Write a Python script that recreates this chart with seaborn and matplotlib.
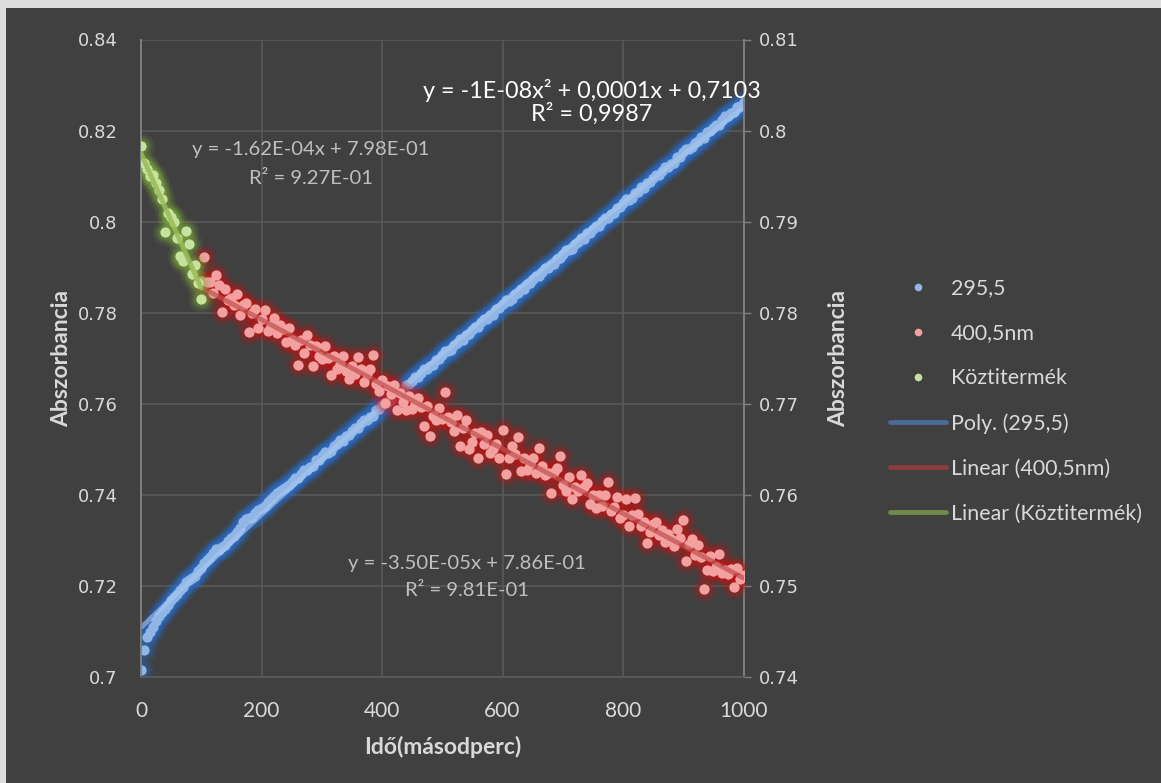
import numpy as np
import pandas as pd
import matplotlib
matplotlib.use("Agg")
import matplotlib.pyplot as plt
from matplotlib.lines import Line2D
from matplotlib.patches import Rectangle
import seaborn as sns

# ---- measured absorbance values -------------------------------------------
time_295 = np.arange(0, 1001, 5)
abs_295 = [
    0.7015, 0.7060, 0.7088, 0.7098, 0.7110, 0.7122, 0.7135, 0.7142, 0.7150, 0.7158,
    0.7168, 0.7176, 0.7182, 0.7190, 0.7198, 0.7208, 0.7213, 0.7218, 0.7222, 0.7232,
    0.7240, 0.7250, 0.7256, 0.7264, 0.7272, 0.7282, 0.7278, 0.7285, 0.7290, 0.7298,
    0.7305, 0.7310, 0.7318, 0.7328, 0.7340, 0.7346, 0.7350, 0.7352, 0.7360, 0.7366,
    0.7372, 0.7376, 0.7384, 0.7390, 0.7398, 0.7403, 0.7408, 0.7412, 0.7418, 0.7422,
    0.7428,
    0.7436, 0.7436, 0.7446, 0.7454, 0.7454, 0.7461, 0.7463, 0.7476, 0.7477, 0.7486,
    0.7494, 0.7493, 0.7497, 0.7507, 0.7511, 0.7520, 0.7518, 0.7530, 0.7532, 0.7540,
    0.7547, 0.7547, 0.7557, 0.7565, 0.7565, 0.7572, 0.7574, 0.7586, 0.7588, 0.7597,
    0.7605, 0.7604, 0.7608, 0.7618, 0.7622, 0.7631, 0.7629, 0.7641, 0.7643, 0.7651,
    0.7658, 0.7658, 0.7668, 0.7676, 0.7676, 0.7683, 0.7685, 0.7697, 0.7699, 0.7708,
    0.7716, 0.7715, 0.7719, 0.7729, 0.7733, 0.7742, 0.7740, 0.7752, 0.7754, 0.7762,
    0.7769, 0.7769, 0.7779, 0.7787, 0.7787, 0.7794, 0.7796, 0.7808, 0.7810, 0.7819,
    0.7827, 0.7826, 0.7830, 0.7840, 0.7844, 0.7853, 0.7851, 0.7863, 0.7865, 0.7873,
    0.7880, 0.7880, 0.7890, 0.7898, 0.7898, 0.7905, 0.7907, 0.7919, 0.7921, 0.7930,
    0.7938, 0.7937, 0.7941, 0.7951, 0.7955, 0.7964, 0.7962, 0.7974, 0.7976, 0.7984,
    0.7991, 0.7991, 0.8001, 0.8009, 0.8009, 0.8016, 0.8018, 0.8030, 0.8032, 0.8041,
    0.8049, 0.8048, 0.8052, 0.8062, 0.8066, 0.8075, 0.8073, 0.8085, 0.8087, 0.8095,
    0.8102, 0.8102, 0.8112, 0.8120, 0.8120, 0.8127, 0.8129, 0.8141, 0.8143, 0.8152,
    0.8160, 0.8159, 0.8163, 0.8173, 0.8177, 0.8186, 0.8184, 0.8196, 0.8198, 0.8206,
    0.8213, 0.8213, 0.8223, 0.8231, 0.8231, 0.8238, 0.8240, 0.8252, 0.8254, 0.8262,
]

time_400 = np.arange(100, 1001, 5)
abs_400 = [
    0.7835, 0.7861, 0.7834, 0.7834, 0.7822, 0.7841, 0.7830, 0.7801, 0.7826, 0.7814,
    0.7816, 0.7808, 0.7821, 0.7798, 0.7808, 0.7811, 0.7779, 0.7800, 0.7804, 0.7783,
    0.7793, 0.7803, 0.7780, 0.7787, 0.7794, 0.7778, 0.7786, 0.7782, 0.7768, 0.7783,
    0.7770, 0.7765, 0.7743, 0.7770, 0.7756, 0.7776, 0.7765, 0.7741, 0.7764, 0.7753,
    0.7749, 0.7763, 0.7750, 0.7732, 0.7753, 0.7738, 0.7744, 0.7752, 0.7736, 0.7727,
    0.7742, 0.7733, 0.7751, 0.7738, 0.7724, 0.7733, 0.7738, 0.7754, 0.7722, 0.7714,
    0.7726, 0.7701, 0.7720, 0.7711, 0.7721, 0.7693, 0.7712, 0.7702, 0.7693, 0.7709,
    0.7694, 0.7701, 0.7706, 0.7697, 0.7676, 0.7698, 0.7665, 0.7687, 0.7682, 0.7695,
    0.7683, 0.7713, 0.7686, 0.7680, 0.7670, 0.7688, 0.7654, 0.7673, 0.7682, 0.7650,
    0.7658, 0.7668, 0.7641, 0.7669, 0.7656, 0.7666, 0.7646, 0.7650, 0.7656, 0.7641,
    0.7671, 0.7623, 0.7640, 0.7654, 0.7645, 0.7664, 0.7626, 0.7641, 0.7627, 0.7634,
    0.7640, 0.7624, 0.7651, 0.7632, 0.7622, 0.7624, 0.7602, 0.7625, 0.7630, 0.7643,
    0.7611, 0.7604, 0.7620, 0.7595, 0.7609, 0.7604, 0.7622, 0.7609, 0.7613, 0.7590,
    0.7600, 0.7586, 0.7600, 0.7588, 0.7600, 0.7614, 0.7582, 0.7587, 0.7598, 0.7575,
    0.7578, 0.7595, 0.7566, 0.7578, 0.7597, 0.7579, 0.7566, 0.7570, 0.7547, 0.7559,
    0.7568, 0.7570, 0.7556, 0.7561, 0.7548, 0.7557, 0.7551, 0.7544, 0.7562, 0.7553,
    0.7572, 0.7527, 0.7546, 0.7552, 0.7534, 0.7545, 0.7532, 0.7497, 0.7518, 0.7533,
    0.7516, 0.7521, 0.7535, 0.7514, 0.7518, 0.7513, 0.7519, 0.7499, 0.7520, 0.7508,
    0.7512,
]

time_kozti = np.arange(0, 101, 5)
abs_kozti = [
    0.7983, 0.7964, 0.7958, 0.7950, 0.7951, 0.7942, 0.7935, 0.7925, 0.7889, 0.7909,
    0.7905, 0.7900, 0.7882, 0.7862, 0.7857, 0.7890, 0.7876, 0.7843, 0.7852, 0.7833,
    0.7815,
]

series_names = ["295,5", "400,5nm", "Köztitermék"]
trend_names = ["Poly. (295,5)", "Linear (400,5nm)", "Linear (Köztitermék)"]
eq_295 = ["y = -1E-08x² + 0,0001x + 0,7103", "R² = 0,9987"]
eq_kozti = ["y = -1.62E-04x + 7.98E-01", "R² = 9.27E-01"]
eq_400 = ["y = -3.50E-05x + 7.86E-01", "R² = 9.81E-01"]

left_ticks = [0.7, 0.72, 0.74, 0.76, 0.78, 0.8, 0.82, 0.84]
right_ticks = [0.74, 0.75, 0.76, 0.77, 0.78, 0.79, 0.8, 0.81]
x_ticks = [0, 200, 400, 600, 800, 1000]

# ---- style -----------------------------------------------------------------
sns.set_theme(style="dark")
BG = "#404040"
GRID = "#595959"
TXT = "#d9d9d9"
plt.rcParams["font.family"] = ["Lato", "DejaVu Sans"]

W, H = 1161, 783
fig = plt.figure(figsize=(W / 100, H / 100), dpi=100)
fig.patch.set_facecolor("#dcdcdc")
fig.add_artist(Rectangle((6 / W, 0), 1, 1 - 8 / H, transform=fig.transFigure,
                         facecolor=BG, edgecolor="none", zorder=0))

def px(x, y):
    return x / W, 1 - y / H

ax = fig.add_axes([141 / W, 1 - 677 / H, (743.5 - 141) / W, (677 - 39.5) / H])
ax2 = ax.twinx()
ax.set_facecolor(BG)
ax2.patch.set_visible(False)

def glow_scatter(axis, x, y, core, glow, zo):
    for s, a in [(360, 0.10), (220, 0.16), (130, 0.25)]:
        sns.scatterplot(x=x, y=y, ax=axis, s=s, color=glow, alpha=a,
                        linewidth=0, legend=False, zorder=zo)
    sns.scatterplot(x=x, y=y, ax=axis, s=55, color=core, linewidth=0,
                    legend=False, zorder=zo + 1)

# 295,5 nm on the primary axis with a second-order trend
glow_scatter(ax, time_295, abs_295, "#91b6e6", "#2a6fd0", 3)
p2 = np.polyfit(time_295, abs_295, 2)
tx = np.linspace(0, 1000, 200)
sns.lineplot(x=tx, y=np.polyval(p2, tx), ax=ax, color="#a8c8f0", lw=3.5,
             alpha=0.6, zorder=5)

# 400,5 nm and the intermediate on the secondary axis with linear trends
glow_scatter(ax2, time_400, abs_400, "#f2a0a0", "#c81414", 3)
p1 = np.polyfit(time_400, abs_400, 1)
tr = np.array([100, 1000])
sns.lineplot(x=tr, y=np.polyval(p1, tr), ax=ax2, color="#c0504d", lw=3.5,
             alpha=0.7, zorder=5)

glow_scatter(ax2, time_kozti, abs_kozti, "#c6e29c", "#82b33c", 6)
pk = np.polyfit(time_kozti, abs_kozti, 1)
tk = np.array([0, 100])
sns.lineplot(x=tk, y=np.polyval(pk, tk), ax=ax2, color="#9bbb59", lw=3.5,
             alpha=0.85, zorder=8)

# ---- axes ------------------------------------------------------------------
ax.set_xlim(0, 1000)
ax.set_ylim(0.7, 0.84)
ax2.set_ylim(0.74, 0.81)
ax.set_xticks(x_ticks)
ax.set_xticklabels([str(v) for v in x_ticks], fontsize=15, color=TXT)
ax.set_yticks(left_ticks)
ax.set_yticklabels([f"{v:g}" for v in left_ticks], fontsize=13, color=TXT,
                   family="DejaVu Sans")
ax2.set_yticks(right_ticks)
ax2.set_yticklabels([f"{v:g}" for v in right_ticks], fontsize=13, color=TXT,
                    family="DejaVu Sans")

ax.grid(True, color=GRID, lw=1.2)
ax.set_axisbelow(True)
ax2.grid(False)
for a in (ax, ax2):
    a.spines["top"].set_visible(False)
    a.spines["left"].set_color("#7f7f7f")
    a.spines["right"].set_color("#7f7f7f")
    a.spines["bottom"].set_color(GRID)
    a.spines["bottom"].set_linewidth(1.2)
ax.tick_params(axis="y", length=0, pad=17)
ax.tick_params(axis="x", length=0, pad=17)
ax2.tick_params(axis="y", length=5, width=1, color="#7f7f7f", pad=6, direction="out")

ax.set_xlabel("Idő(másodperc)", fontsize=16.5, fontweight="bold", color=TXT, labelpad=11)
ax.set_ylabel("Abszorbancia", fontsize=16.5, fontweight="bold", color=TXT, labelpad=4)
ax2.set_ylabel("Abszorbancia", fontsize=16.5, fontweight="bold", color=TXT, labelpad=21)

# ---- trend equations -------------------------------------------------------
fig.text(*px(592, 90), eq_295[0], fontsize=16.8, color="white", ha="center", va="center")
fig.text(*px(592, 114), eq_295[1], fontsize=16.8, color="white", ha="center", va="center")
fig.text(*px(311, 149), eq_kozti[0], fontsize=14.6, color="#bfbfbf", ha="center", va="center")
fig.text(*px(311, 178), eq_kozti[1], fontsize=14.6, color="#bfbfbf", ha="center", va="center")
fig.text(*px(467, 564), eq_400[0], fontsize=14.6, color="#bfbfbf", ha="center", va="center")
fig.text(*px(467, 591), eq_400[1], fontsize=14.6, color="#bfbfbf", ha="center", va="center")

# ---- legend ----------------------------------------------------------------
handles = [
    Line2D([], [], ls="none", marker="o", ms=5.5, mfc="#91b6e6", mec="none"),
    Line2D([], [], ls="none", marker="o", ms=5.5, mfc="#f2a0a0", mec="none"),
    Line2D([], [], ls="none", marker="o", ms=5.5, mfc="#c6e29c", mec="none"),
    Line2D([], [], color="#4a6a98", lw=3.5),
    Line2D([], [], color="#8c3c3c", lw=3.5),
    Line2D([], [], color="#6f8a4a", lw=3.5),
]
leg = fig.legend(handles, series_names + trend_names, loc="upper left",
                 bbox_to_anchor=px(890, 278), frameon=False, fontsize=15.4,
                 labelcolor=TXT, handlelength=2.6, handletextpad=0.25,
                 labelspacing=1.17, borderpad=0, borderaxespad=0)

fig.savefig("out.png", dpi=100, facecolor=fig.get_facecolor())
